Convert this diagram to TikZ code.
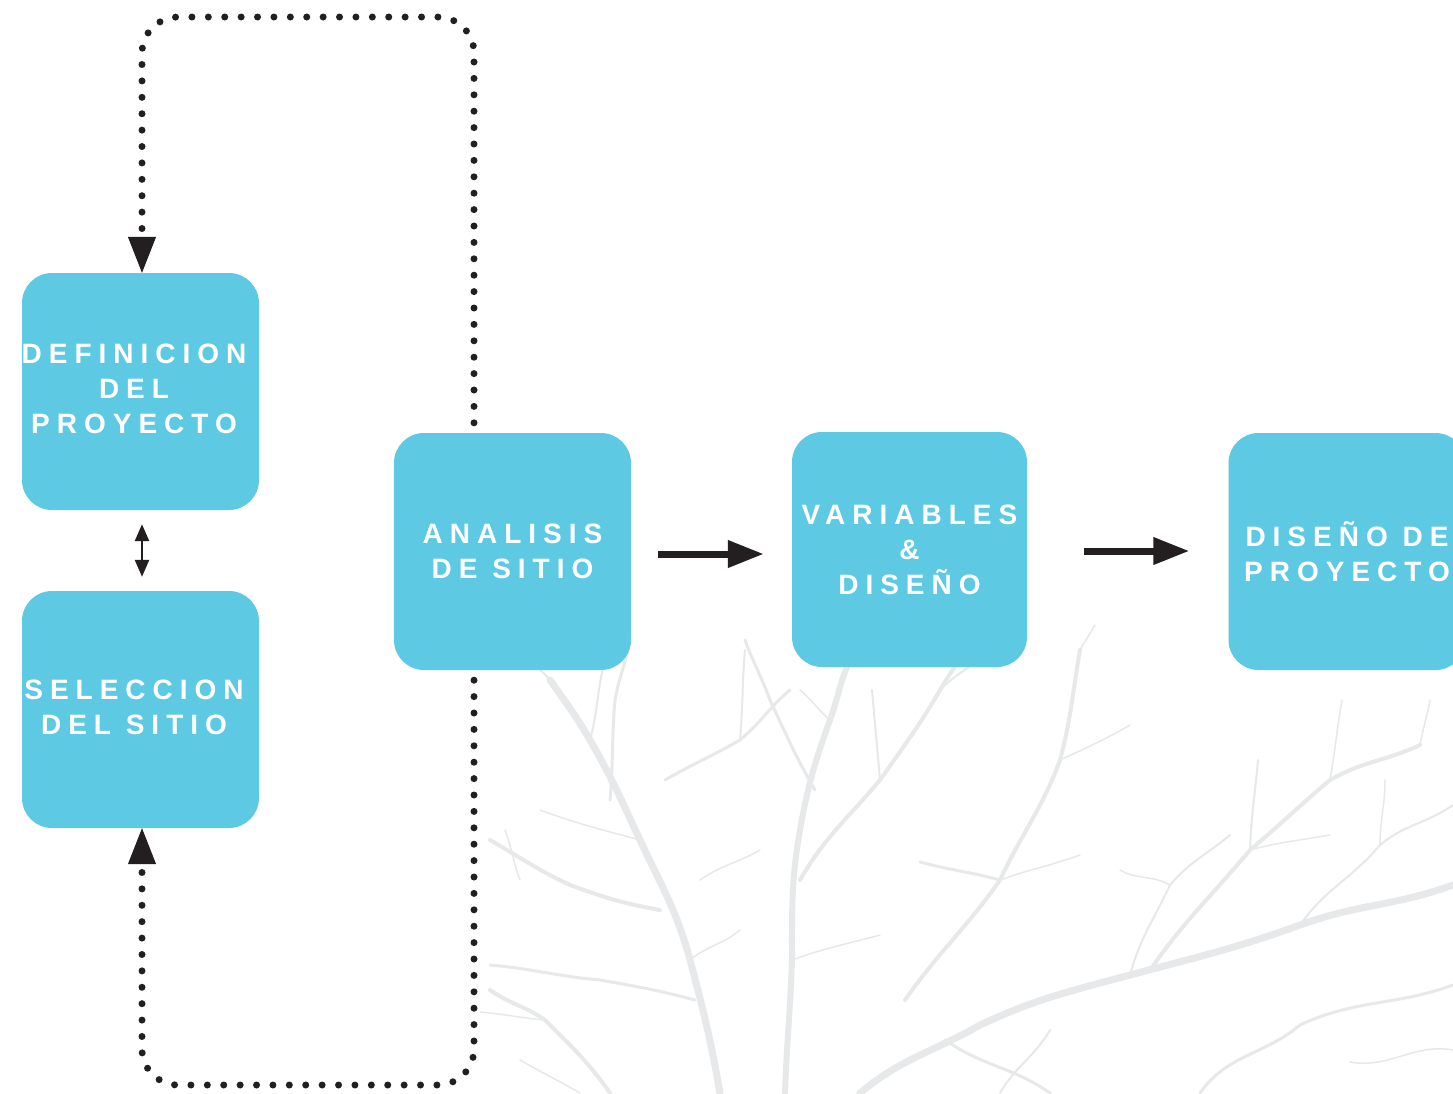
\documentclass[tikz,border=0pt]{standalone}
\usepackage{fontspec}
\setmainfont{Liberation Sans}[LetterSpace=25]
\usetikzlibrary{arrows.meta}
\definecolor{boxblue}{RGB}{94,201,227}
\definecolor{darkink}{RGB}{35,31,32}
\definecolor{treegray}{RGB}{231,232,233}
\begin{document}
\begin{tikzpicture}[x=1pt,y=-1pt,
  boxfont/.style={text=white, align=center, font=\fontsize{28}{35}\selectfont\bfseries},
  box/.style={fill=boxblue, draw=none, rounded corners=30pt, minimum width=237pt, minimum height=237pt,
    inner sep=0pt, boxfont},
  dotline/.style={draw=darkink, line width=7pt, line cap=round, dash pattern=on 0pt off 16.4pt, rounded corners=36pt},
  dottip/.style={-{Triangle[length=36pt,width=28pt]}},
  arr/.style={draw=darkink, line width=7pt, -{Triangle[length=36pt,width=26pt]}},
  smallarr/.style={draw=darkink, line width=2.5pt, {Triangle[length=17pt,width=14pt]}-{Triangle[length=17pt,width=14pt]}},
  br/.style={draw=treegray, line cap=round, line join=round, line width=#1}
]
\useasboundingbox (0,0) rectangle (1453,1093);
\clip (0,0) rectangle (1453,1093);
\fill[white] (0,0) rectangle (1453,1093);

% faint tree in the background
\draw[br=7pt] (720,1093) to[out=100,in=-75] (690,960) to[out=105,in=-65] (640,840) to[out=115,in=-60] (590,740) to[out=120,in=-55] (550,680);
\draw[br=6pt] (785,1093) to[out=88,in=-92] (792,960) to[out=90,in=-100] (800,830) to[out=80,in=-110] (830,720) to[out=70,in=-115] (850,660);
\draw[br=7pt] (860,1093) to[out=40,in=-150] (980,1025) to[out=25,in=-165] (1130,975) to[out=15,in=-160] (1300,925) to[out=20,in=-160] (1453,885);
\draw[br=4pt] (800,880) to[out=60,in=-130] (880,780) to[out=55,in=-120] (940,690) to[out=60,in=-115] (970,640);
\draw[br=4pt] (905,1000) to[out=55,in=-125] (1000,880) to[out=65,in=-110] (1060,760) to[out=75,in=-100] (1080,650);
\draw[br=4pt] (1150,970) to[out=55,in=-130] (1250,850) to[out=40,in=-140] (1330,780) to[out=30,in=-155] (1420,745);
\draw[br=4pt] (660,910) to[out=170,in=-20] (570,885) to[out=155,in=-30] (490,840);
\draw[br=3pt] (610,800) to[out=85,in=-95] (615,700) to[out=80,in=-100] (630,640);
\draw[br=3pt] (695,1000) to[out=165,in=-10] (600,980) to[out=175,in=-5] (490,965);
\draw[br=3pt] (665,780) to[out=30,in=-150] (740,740) to[out=40,in=-140] (790,690);
\draw[br=2pt] (740,740) to[out=85,in=-95] (745,650);
\draw[br=3pt] (815,790) to[out=120,in=-65] (770,700) to[out=110,in=-70] (745,640);
\draw[br=2pt] (550,680) to[out=130,in=-40] (515,650);
\draw[br=2pt] (590,740) to[out=75,in=-105] (605,660);
\draw[br=3pt] (1000,880) to[out=165,in=-15] (920,862);
\draw[br=2pt] (1250,850) to[out=88,in=-95] (1258,760);
\draw[br=2pt] (1300,925) to[out=55,in=-130] (1380,845) to[out=40,in=-145] (1453,805);
\draw[br=3pt] (945,1040) to[out=-35,in=145] (1050,1093);
\draw[br=2pt] (1130,975) to[out=75,in=-115] (1170,885) to[out=50,in=-140] (1230,835);
\draw[br=4pt] (610,1093) to[out=125,in=-45] (545,1020) to[out=145,in=-35] (490,990);
\draw[br=3pt] (1200,1093) to[out=55,in=-140] (1300,1025) to[out=25,in=-160] (1453,985);
\draw[br=2pt] (880,780) to[out=95,in=-85] (872,690);
\draw[br=2pt] (940,690) to[out=45,in=-140] (1000,645);
\draw[br=1.5pt] (640,840) to[out=165,in=-20] (540,810);
\draw[br=1.5pt] (792,960) to[out=20,in=-165] (880,935);
\draw[br=1.5pt] (1060,760) to[out=25,in=-150] (1130,725);
\draw[br=1.5pt] (1000,880) to[out=20,in=-160] (1080,855);
\draw[br=1.5pt] (700,880) to[out=35,in=-150] (760,850);
\draw[br=1.5pt] (1330,780) to[out=80,in=-100] (1342,700);
\draw[br=1.5pt] (1250,850) to[out=15,in=-170] (1330,835);
\draw[br=1.5pt] (545,1020) to[out=175,in=-5] (480,1012);
\draw[br=1.5pt] (830,720) to[out=140,in=-40] (800,690);
\draw[br=1.5pt] (690,960) to[out=40,in=-140] (740,930);
\draw[br=1.5pt] (1380,845) to[out=90,in=-90] (1385,780);
\draw[br=1.5pt] (1453,1050) to[out=170,in=-10] (1350,1062);
\draw[br=2pt] (1000,1093) to[out=60,in=-120] (1050,1030);
\draw[br=1.5pt] (580,1093) to[out=150,in=-30] (520,1060);
\draw[br=1.5pt] (970,640) to[out=120,in=-60] (955,620);
\draw[br=1.5pt] (1080,650) to[out=60,in=-120] (1095,625);
\draw[br=1.5pt] (520,880) to[out=110,in=-70] (505,830);
\draw[br=1.5pt] (1170,885) to[out=150,in=-30] (1120,870);
\draw[br=1.5pt] (1420,745) to[out=80,in=-100] (1430,700);

% boxes
\node[box, label={[boxfont, xshift=-6.5pt, yshift=2.5pt]center:DEFINICION\\DEL\\PROYECTO}] (def) at (140.5,391.5) {};
\node[box, label={[boxfont, xshift=-6.5pt, yshift=2pt]center:SELECCION\\DEL SITIO}] (sel) at (140.5,709.5) {};
\node[box] (ana) at (512.5,551.5) {ANALISIS\\DE SITIO};
\node[box, minimum width=235pt, minimum height=235pt] (var) at (909.5,549.5) {VARIABLES\\\&\\DISEÑO};
\node[box] (dis) at (1347,551.5) {DISEÑO DE\\PROYECTO};

% arrows
\draw[arr] ([xshift=27pt,yshift=-2.5pt]ana.east) -- ([xshift=-28pt,yshift=-2.5pt]ana.east -| var.west);
\draw[arr] ([xshift=57pt,yshift=-1.5pt]var.east) -- ([xshift=-39pt,yshift=-1.5pt]var.east -| dis.west);
\draw[smallarr] ([xshift=1.5pt,yshift=-14pt]def.south) -- ([xshift=1.5pt,yshift=14pt]sel.north);

% dotted feedback loops
\coordinate (topstart) at ([xshift=-38.5pt,yshift=10pt]ana.north);
\coordinate (botstart) at ([xshift=-38.5pt,yshift=-10pt]ana.south);
\draw[dotline] (topstart) -- (474,17) -- (142,17) -- (142,237);
\draw[dottip, draw=darkink, fill=darkink, line width=1pt] (142,240) -- ([xshift=1.5pt]def.north);
\draw[dotline] (botstart) -- (474,1085) -- (142,1085) -- (142,866);
\draw[dottip, draw=darkink, fill=darkink, line width=1pt] (142,863) -- ([xshift=1.5pt]sel.south);
\end{tikzpicture}
\end{document}
